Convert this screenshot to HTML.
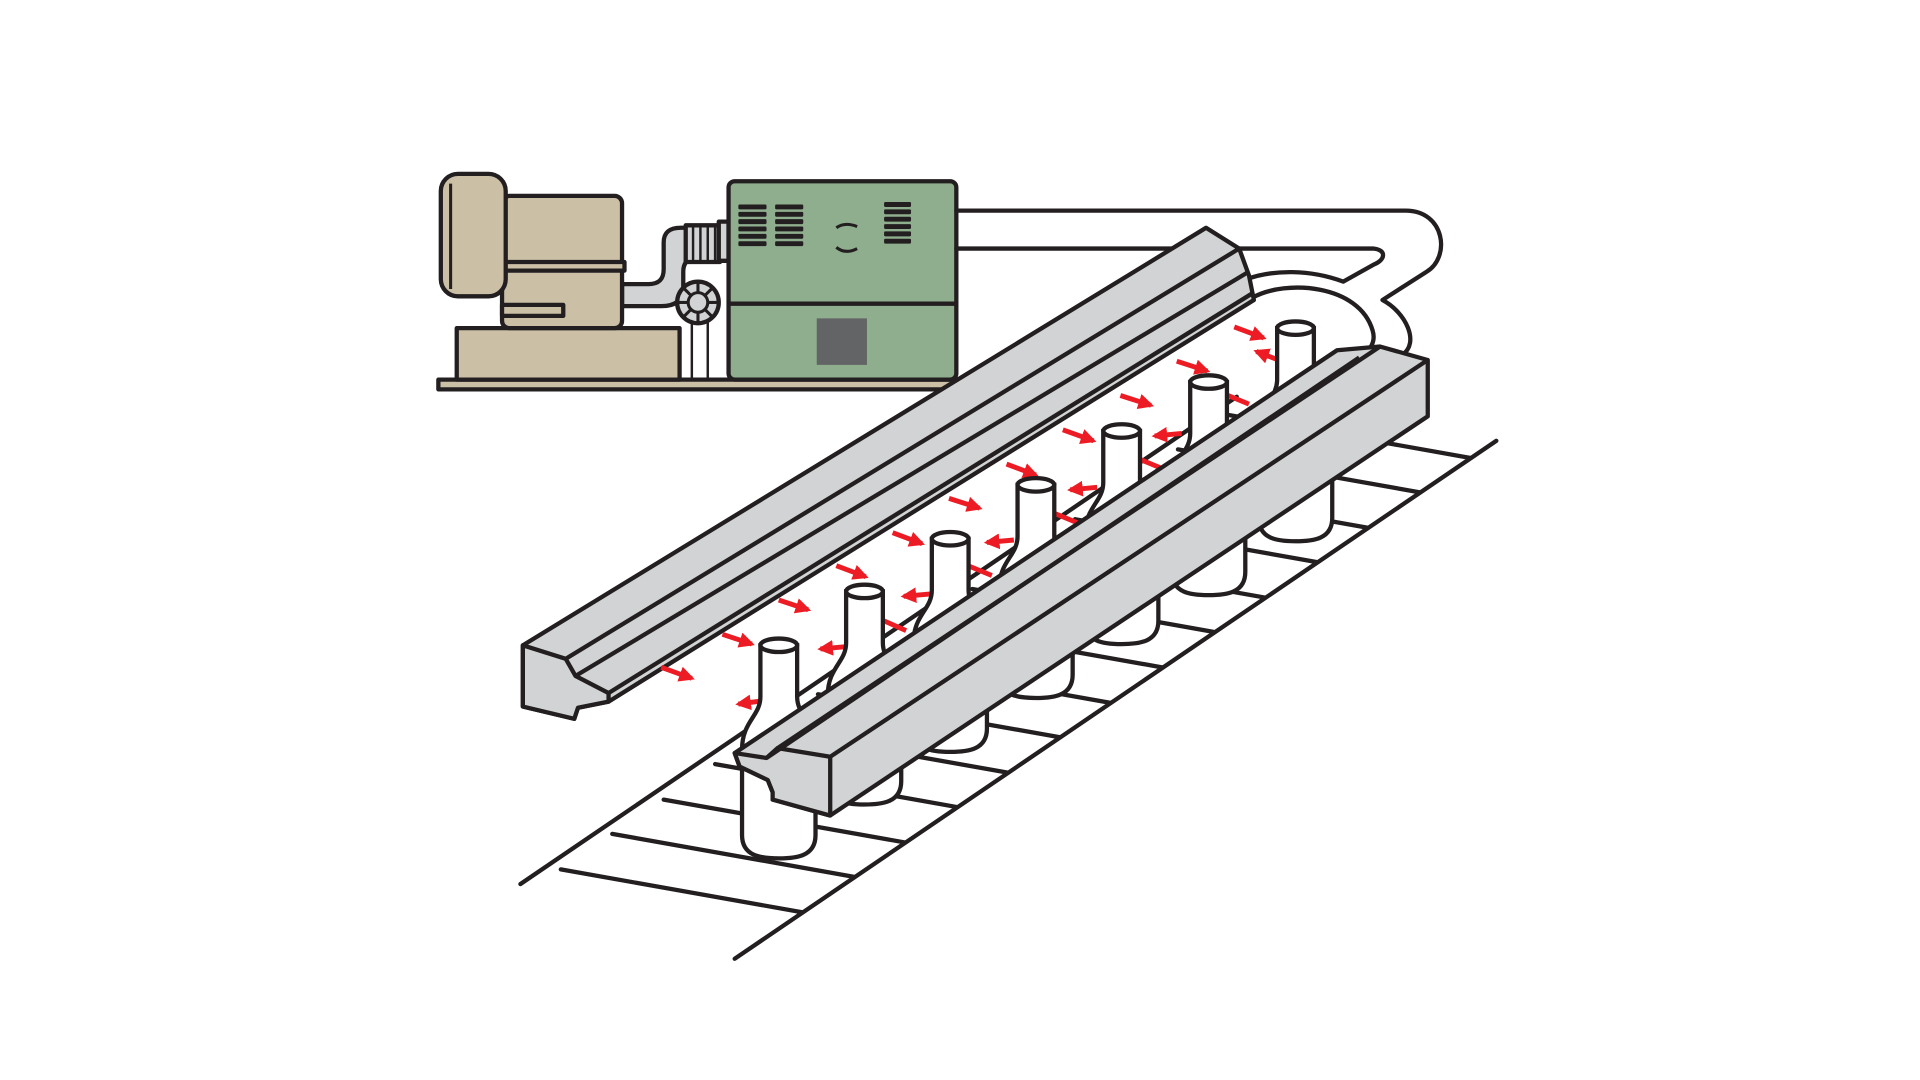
<!DOCTYPE html>
<html><head><meta charset="utf-8"><style>html,body{margin:0;padding:0;background:#fff}svg{display:block}</style></head>
<body>
<svg width="1920" height="1080" viewBox="0 0 1568 882" xmlns="http://www.w3.org/2000/svg">
<defs>
<marker id="ah" viewBox="0 0 10 10" refX="8" refY="5" markerWidth="3.2" markerHeight="3.2" orient="auto-start-reverse"><path d="M0,0 L10,5 L0,10 Z" fill="#ed1c24"/></marker>
<g id="bottle">
<path d="M-15,0 L-15,42 C-15,58 -30,62 -30,85 L-30,155 C-30,172 -15,174 0,174 C15,174 30,172 30,155 L30,85 C30,62 15,58 15,42 L15,0 Z" fill="#fff" stroke="#231f20" stroke-width="3.5"/>
<ellipse cx="0" cy="0" rx="15" ry="5.5" fill="#fff" stroke="#231f20" stroke-width="3.5"/>
</g>
</defs>
<g stroke="#231f20" stroke-width="3.5" fill="none" stroke-linecap="round" stroke-linejoin="round">
<!-- conveyor -->
<line x1="425" y1="722" x2="1010" y2="324"/>
<line x1="600" y1="783" x2="1222" y2="360"/>
<line x1="458" y1="710" x2="655" y2="745"/>
<line x1="500" y1="681" x2="697" y2="716"/>
<line x1="542" y1="653" x2="739" y2="688"/>
<line x1="584" y1="624" x2="781" y2="659"/>
<line x1="626" y1="596" x2="823" y2="631"/>
<line x1="668" y1="567" x2="865" y2="602"/>
<line x1="710" y1="539" x2="907" y2="574"/>
<line x1="752" y1="510" x2="949" y2="545"/>
<line x1="794" y1="481" x2="991" y2="516"/>
<line x1="836" y1="453" x2="1033" y2="488"/>
<line x1="878" y1="424" x2="1075" y2="459"/>
<line x1="920" y1="396" x2="1117" y2="431"/>
<line x1="962" y1="367" x2="1159" y2="402"/>
<line x1="1004" y1="339" x2="1201" y2="374"/>
</g>
<!-- machine -->
<g stroke="#231f20" stroke-width="3.5" stroke-linejoin="round">
<rect x="358" y="310" width="422" height="8" fill="#cbc0a6"/>
<line x1="565" y1="262" x2="565" y2="310" stroke-width="2"/>
<line x1="578" y1="262" x2="578" y2="310" stroke-width="2"/>
<path d="M508,232 L530,232 Q542,232 542,220 L542,198 Q542,186 556,186 L590,186 L590,212 L566,212 Q558,212 558,222 L558,235 Q558,250 540,250 L508,250 Z" fill="#d1d3d4"/>
<rect x="560" y="184" width="28" height="30" fill="#d1d3d4"/>
<g stroke-width="2"><line x1="566" y1="184" x2="566" y2="214"/><line x1="572" y1="184" x2="572" y2="214"/><line x1="578" y1="184" x2="578" y2="214"/><line x1="584" y1="184" x2="584" y2="214"/></g>
<rect x="587" y="181" width="8" height="32" fill="#d1d3d4"/>
<circle cx="570" cy="247" r="17" fill="#d1d3d4"/>
<circle cx="570" cy="247" r="8" fill="#d1d3d4" stroke-width="2.5"/>
<g stroke-width="2.5"><line x1="570" y1="230" x2="570" y2="239"/><line x1="570" y1="255" x2="570" y2="264"/><line x1="553" y1="247" x2="562" y2="247"/><line x1="578" y1="247" x2="587" y2="247"/><line x1="558" y1="235" x2="564" y2="241"/><line x1="576" y1="253" x2="582" y2="259"/><line x1="582" y1="235" x2="576" y2="241"/><line x1="558" y1="259" x2="564" y2="253"/></g>
<rect x="373" y="268" width="182" height="42" fill="#cbc0a6"/>
<rect x="410" y="160" width="98" height="108" rx="6" fill="#cbc0a6"/>
<rect x="410" y="214" width="100" height="7" fill="#cbc0a6"/>
<rect x="410" y="249" width="50" height="9" fill="#cbc0a6"/>
<rect x="360" y="142" width="53" height="100" rx="14" fill="#cbc0a6"/>
<line x1="368" y1="150" x2="368" y2="236" stroke-width="2.5"/>
<rect x="595" y="148" width="186" height="162" rx="5" fill="#8fae8e"/>
<line x1="595" y1="248" x2="781" y2="248"/>
<rect x="667" y="260" width="41" height="38" fill="#636466" stroke="none"/>
<g fill="#231f20" stroke="none">
<rect x="603" y="167" width="23" height="4" rx="1"/><rect x="603" y="173" width="23" height="4" rx="1"/><rect x="603" y="179" width="23" height="4" rx="1"/><rect x="603" y="185" width="23" height="4" rx="1"/><rect x="603" y="191" width="23" height="4" rx="1"/><rect x="603" y="197" width="23" height="4" rx="1"/>
<rect x="633" y="167" width="23" height="4" rx="1"/><rect x="633" y="173" width="23" height="4" rx="1"/><rect x="633" y="179" width="23" height="4" rx="1"/><rect x="633" y="185" width="23" height="4" rx="1"/><rect x="633" y="191" width="23" height="4" rx="1"/><rect x="633" y="197" width="23" height="4" rx="1"/>
<rect x="722" y="165" width="22" height="4" rx="1"/><rect x="722" y="171" width="22" height="4" rx="1"/><rect x="722" y="177" width="22" height="4" rx="1"/><rect x="722" y="183" width="22" height="4" rx="1"/><rect x="722" y="189" width="22" height="4" rx="1"/><rect x="722" y="195" width="22" height="4" rx="1"/>
</g>
<path d="M683,186 Q690,181 700,185 M683,202 Q690,208 700,203" fill="none" stroke-width="2.5"/>
</g>
<!-- duct hose -->
<g stroke="#231f20" stroke-width="3.5" fill="none" stroke-linejoin="round" stroke-linecap="round">
<path d="M781,172 L1148,172 C1180,172 1185,210 1165,222 L1129,245 C1148,255 1160,280 1145,290"/>
<path d="M781,203 L1122,203 C1132,204 1132,212 1122,216 L1097,230 C1070,220 1040,220 1018,228"/>
<path d="M1023,243 C1050,228 1110,232 1121,270 C1124,280 1118,286 1113,290"/>
</g>
<!-- left bar -->
<g stroke="#231f20" stroke-width="3.5" stroke-linejoin="round" fill="#d1d3d4">
<path d="M427,527 L985,186 L1012,203 L1020,225 L1024,245 L497,573 L472,578 L469,587 L427,577 Z"/>
<path d="M427,527 L462,538 L470,552 L497,566 L497,573 L472,578 L469,587 L427,577 Z"/>
<g fill="none"><line x1="462" y1="538" x2="1012" y2="203"/><line x1="470" y1="552" x2="1018" y2="223"/><line x1="497" y1="566" x2="1022" y2="240"/></g>
</g>
<!-- arrows -->
<g stroke="#ed1c24" stroke-width="4" marker-end="url(#ah)">
<line x1="540" y1="545" x2="565" y2="554"/>
<line x1="590" y1="518" x2="614" y2="526"/>
<line x1="636" y1="490" x2="660" y2="498"/>
<line x1="683" y1="462" x2="707" y2="471"/>
<line x1="729" y1="435" x2="753" y2="444"/>
<line x1="775" y1="407" x2="800" y2="415"/>
<line x1="822" y1="379" x2="846" y2="388"/>
<line x1="868" y1="351" x2="893" y2="360"/>
<line x1="915" y1="323" x2="940" y2="331"/>
<line x1="961" y1="295" x2="986" y2="303"/>
<line x1="1008" y1="267" x2="1032" y2="276"/>
<line x1="625" y1="572" x2="603" y2="575"/>
<line x1="692" y1="528" x2="670" y2="530"/>
<line x1="760" y1="485" x2="738" y2="487"/>
<line x1="828" y1="441" x2="806" y2="443"/>
<line x1="896" y1="398" x2="874" y2="400"/>
<line x1="965" y1="354" x2="943" y2="356"/>
<line x1="1044" y1="294" x2="1026" y2="287"/>
<line x1="740" y1="515" x2="706" y2="500"/>
<line x1="810" y1="470" x2="776" y2="456"/>
<line x1="880" y1="427" x2="846" y2="413"/>
<line x1="950" y1="383" x2="916" y2="369"/>
<line x1="1020" y1="330" x2="986" y2="316"/>
</g>
<!-- bottles -->
<use href="#bottle" x="636" y="527"/>
<use href="#bottle" x="706" y="483"/>
<use href="#bottle" x="776" y="440"/>
<use href="#bottle" x="846" y="396"/>
<use href="#bottle" x="916" y="352"/>
<use href="#bottle" x="987" y="312"/>
<use href="#bottle" x="1058" y="268"/>
<!-- right bar -->
<g stroke="#231f20" stroke-width="3.5" stroke-linejoin="round" fill="#d1d3d4">
<path d="M604,626 L600,615 L1092,286 L1127,283 L1166,294 L1166,340 L678,666 L631,653 L631,647 L627,637 Z"/>
<path d="M600,615 L626,619 L635,611 L678,618 L678,666 L631,653 L631,647 L627,637 L604,626 Z"/>
<g fill="none"><line x1="626" y1="619" x2="1110" y2="292"/><line x1="635" y1="611" x2="1127" y2="283"/><line x1="678" y1="618" x2="1166" y2="294"/></g>
</g>
</svg>
</body></html>
